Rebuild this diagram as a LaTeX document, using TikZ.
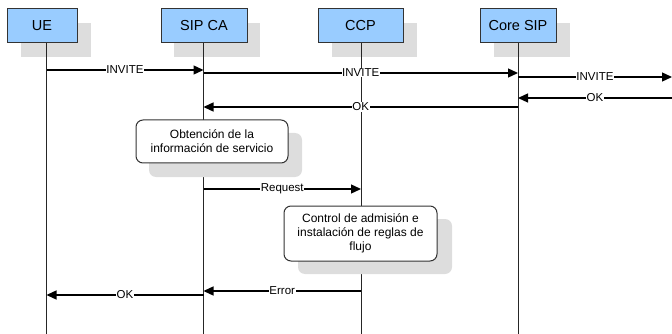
\documentclass[tikz,border=0pt]{standalone}
\usepackage{fontspec}
\setmainfont{Liberation Sans}
\usetikzlibrary{arrows.meta}
\definecolor{boxblue}{HTML}{99CCFF}
\definecolor{shadowgray}{HTML}{DDDDDD}
\definecolor{edgegray}{HTML}{333333}
\begin{document}
\begin{tikzpicture}[x=1pt,y=-1pt,
  headbox/.style={draw=edgegray, fill=boxblue, line width=1pt, minimum height=34pt, inner sep=0pt,
    font=\fontsize{14.5}{17}\selectfont},
  procbox/.style={draw=edgegray, fill=white, line width=1pt, rounded corners=7pt, align=center,
    inner sep=0pt, font=\fontsize{12}{14}\selectfont},
  shadowbox/.style={fill=shadowgray, draw=none, inner sep=0pt},
  lifeline/.style={draw=black!85, line width=1pt},
  msg/.style={draw=black, line width=1.3pt, -{Triangle[length=10pt,width=9pt]}},
  lbl/.style={fill=white, inner sep=0.5pt, font=\fontsize{11.5}{13}\selectfont}
]
\useasboundingbox (0,0) rectangle (672,334);
% header shadows
\node[shadowbox, minimum width=70pt, minimum height=34pt] (ueshadow) at (56,40) {};
\node[shadowbox, minimum width=86pt, minimum height=34pt] (sipshadow) at (217,40) {};
\node[shadowbox, minimum width=85pt, minimum height=34pt] (ccpshadow) at (374,40) {};
\node[shadowbox, minimum width=76pt, minimum height=34pt] (coreshadow) at (532,40) {};
% lifeline coordinates
\coordinate (uetop) at (46.5,43);
\coordinate (uebot) at (46.5,334);
\coordinate (siptop) at (203.5,43);
\coordinate (sipbot) at (203.5,334);
\coordinate (ccptop) at (361,43);
\coordinate (ccpbot) at (361,334);
\coordinate (coretop) at (518,43);
\coordinate (corebot) at (518,334);
\draw[lifeline] (uetop) -- (uebot);
\draw[lifeline] (siptop) -- (sipbot);
\draw[lifeline] (ccptop) -- (ccpbot);
\draw[lifeline] (coretop) -- (corebot);
% headers
\node[headbox, minimum width=70pt] (ue) at (42,26) {UE};
\node[headbox, minimum width=86pt] (sip) at (204,26) {SIP CA};
\node[headbox, minimum width=85pt] (ccp) at (360.5,26) {CCP};
\node[headbox, minimum width=76pt] (core) at (518,26) {Core SIP};
% message anchor points
\coordinate (ue1) at (46.5,70);   \coordinate (sip1) at (203.5,70);
\coordinate (sip2) at (203.5,73); \coordinate (core2) at (518,73);
\coordinate (core3) at (518,77);  \coordinate (out3) at (672,77);
\coordinate (out4) at (672,98);   \coordinate (core4) at (518,98);
\coordinate (core5) at (518,107); \coordinate (sip5) at (203.5,107);
\coordinate (sip6) at (203.5,189); \coordinate (ccp6) at (361,189);
\coordinate (ccp7) at (361,291);  \coordinate (sip7) at (203.5,291);
\coordinate (sip8) at (203.5,295); \coordinate (ue8) at (46.5,295);
\draw[msg] (ue1) -- node[lbl] (l1) {INVITE} (sip1);
\draw[msg] (sip2) -- node[lbl] (l2) {INVITE} (core2);
\draw[msg] (core3) -- node[lbl] (l3) {INVITE} (out3);
\draw[msg] (out4) -- node[lbl] (l4) {OK} (core4);
\draw[msg] (core5) -- node[lbl] (l5) {OK} (sip5);
\draw[msg] (sip6) -- node[lbl] (l6) {Request} (ccp6);
\draw[msg] (ccp7) -- node[lbl] (l7) {Error} (sip7);
\draw[msg] (sip8) -- node[lbl] (l8) {OK} (ue8);
% process boxes
\node[shadowbox, rounded corners=7pt, minimum width=153pt, minimum height=44pt] (p1shadow) at (225.5,155) {};
\node[procbox, minimum width=152pt, minimum height=43pt] (p1) at (212,141.5) {Obtención de la\\información de servicio};
\node[shadowbox, rounded corners=7pt, minimum width=154pt, minimum height=55pt] (p2shadow) at (375,246.5) {};
\node[procbox, minimum width=153pt, minimum height=55pt] (p2) at (360.5,233.5) {Control de admisión e\\instalación de reglas de\\flujo};
\end{tikzpicture}
\end{document}
